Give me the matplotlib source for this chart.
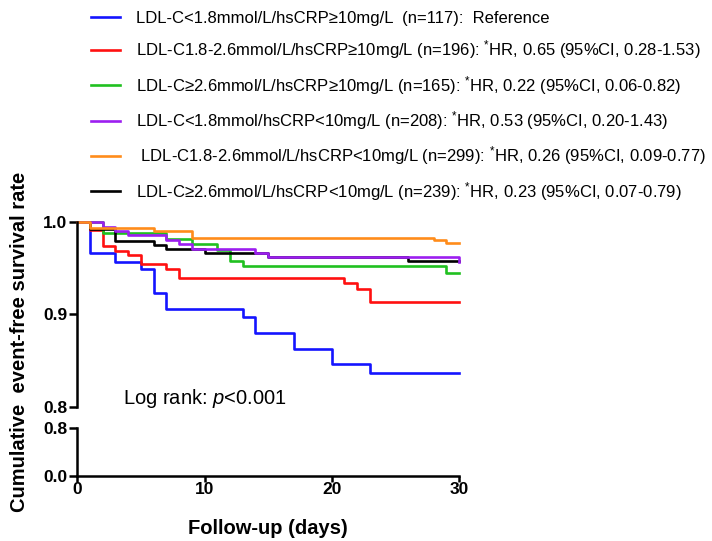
import matplotlib
matplotlib.use('Agg')
import matplotlib.pyplot as plt
import numpy as np

plt.rcParams['font.family'] = ['Liberation Sans', 'DejaVu Sans']
plt.rcParams['mathtext.fontset'] = 'custom'
plt.rcParams['mathtext.rm'] = 'Liberation Sans'
plt.rcParams['mathtext.it'] = 'Liberation Sans:italic'

# event days and survival after each step
blue_t = [1, 3, 5, 6, 7, 13, 14, 17, 20, 23]
blue_s = [0.966, 0.957, 0.949, 0.923, 0.906, 0.897, 0.880, 0.863, 0.846, 0.837]

red_t = [1, 2, 3, 4, 5, 7, 8, 21, 22, 23]
red_s = [0.991, 0.974, 0.969, 0.964, 0.955, 0.949, 0.939, 0.934, 0.928, 0.913]

green_t = [2, 7, 9, 11, 12, 13, 29]
green_s = [0.988, 0.982, 0.976, 0.970, 0.958, 0.952, 0.945]

black_t = [1, 3, 6, 7, 10, 15, 26]
black_s = [0.992, 0.979, 0.975, 0.971, 0.967, 0.962, 0.958]

purple_t = [2, 3, 4, 7, 8, 9, 14, 15, 30]
purple_s = [0.995, 0.990, 0.986, 0.981, 0.976, 0.971, 0.967, 0.962, 0.957]

orange_t = [1, 6, 9, 28, 29]
orange_s = [0.994, 0.990, 0.983, 0.980, 0.977]

labels = [
    'LDL-C<1.8mmol/L/hsCRP\u226510mg/L  (n=117):  Reference',
    'LDL-C1.8-2.6mmol/L/hsCRP\u226510mg/L (n=196): $^{*}$HR, 0.65 (95%CI, 0.28-1.53)',
    'LDL-C\u22652.6mmol/L/hsCRP\u226510mg/L (n=165): $^{*}$HR, 0.22 (95%CI, 0.06-0.82)',
    'LDL-C<1.8mmol/hsCRP<10mg/L (n=208): $^{*}$HR, 0.53 (95%CI, 0.20-1.43)',
    ' LDL-C1.8-2.6mmol/L/hsCRP<10mg/L (n=299): $^{*}$HR, 0.26 (95%CI, 0.09-0.77)',
    'LDL-C\u22652.6mmol/L/hsCRP<10mg/L (n=239): $^{*}$HR, 0.23 (95%CI, 0.07-0.79)',
]
colors = ['#1414ff', '#ff1010', '#20c020', '#9c1ef0', '#ff8c1a', '#000000']
series = [(blue_t, blue_s), (red_t, red_s), (green_t, green_s),
          (purple_t, purple_s), (orange_t, orange_s), (black_t, black_s)]
# drawing order: black under purple
order = [0, 1, 2, 5, 3, 4]

fig = plt.figure(figsize=(7.12, 5.41), dpi=100)
ax = fig.add_axes([0.1086, 0.2477, 0.536, 0.342])
ax2 = fig.add_axes([0.1086, 0.1201, 0.536, 0.0882])

handles = [None] * 6
for i in order:
    t, s = series[i]
    tt = [0] + t + [30]
    ss = [1.0] + s + [s[-1]]
    ln, = ax.step(tt, ss, where='post', color=colors[i], lw=1.9, clip_on=False)
    handles[i] = ln

lw_axis = 1.8
for a in (ax, ax2):
    a.set_xlim(0, 30)
    for sp in ('top', 'right'):
        a.spines[sp].set_visible(False)
    a.spines['left'].set_linewidth(lw_axis)
    a.spines['bottom'].set_linewidth(lw_axis)
    a.tick_params(axis='y', width=lw_axis, length=6, pad=1, labelsize=12.5)
    a.tick_params(axis='x', width=lw_axis, length=4.5, pad=0, labelsize=12.5)

ax.set_ylim(0.8, 1.0)
ax.set_yticks([0.8, 0.9, 1.0])
ax.set_yticklabels(['0.8', '0.9', '1.0'], fontweight='bold')
ax.spines['bottom'].set_visible(False)
ax.set_xticks([])

ax2.set_ylim(0.0, 0.8)
ax2.set_yticks([0.0, 0.8])
ax2.set_yticklabels(['0.0', '0.8'], fontweight='bold')
ax2.set_xticks([0, 10, 20, 30])
ax2.set_xticklabels(['0', '10', '20', '30'], fontweight='bold')
ax2.set_xlabel('Follow-up (days)', fontsize=14.5, fontweight='bold', labelpad=16)

ax.text(3.6, 0.797, 'Log rank: $p$<0.001', fontsize=14.5, va='bottom', ha='left',
        clip_on=False)

fig.text(0.027, 0.368, 'Cumulative  event-free survival rate', rotation=90,
         fontsize=14.5, fontweight='bold', ha='center', va='center')

fig.legend(handles, labels, loc='upper left', bbox_to_anchor=(0.128, 0.98),
           frameon=False, fontsize=12, handlelength=1.75, handletextpad=0.95,
           labelspacing=0.75, borderpad=0, borderaxespad=0)

fig.savefig('out.png', dpi=100)
